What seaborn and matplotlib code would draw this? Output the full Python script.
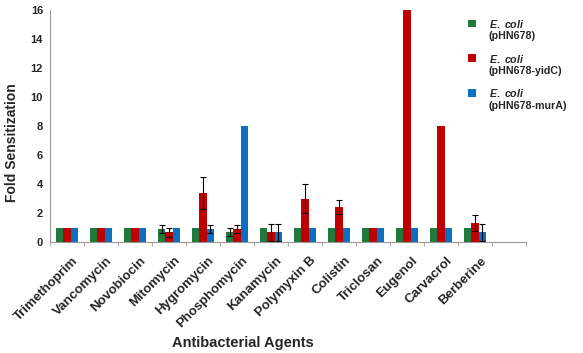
import numpy as np
import pandas as pd
import matplotlib
matplotlib.use("Agg")
import matplotlib.pyplot as plt
import matplotlib.transforms as mtransforms
import seaborn as sns
from matplotlib.patches import Patch, Rectangle
from matplotlib.legend_handler import HandlerPatch
from matplotlib.ticker import FixedLocator

sns.set_style("white")
plt.rcParams['font.family'] = ['Liberation Sans', 'DejaVu Sans']
plt.rcParams['font.weight'] = 'bold'
plt.rcParams['mathtext.fontset'] = 'custom'
plt.rcParams['mathtext.it'] = 'Liberation Sans:italic:bold'
plt.rcParams['mathtext.rm'] = 'Liberation Sans:bold'

agents = ['Trimethoprim', 'Vancomycin', 'Novobiocin', 'Mitomycin', 'Hygromycin',
          'Phosphomycin', 'Kanamycin', 'Polymyxin B', 'Colistin', 'Triclosan',
          'Eugenol', 'Carvacrol', 'Berberine']
strains = ['pHN678', 'pHN678-yidC', 'pHN678-murA']

# fold sensitization per strain
vals_base = [1, 1, 1, 0.88, 1, 0.67, 1, 1, 1, 1, 1, 1, 1]
vals_yidc = [1, 1, 1, 0.67, 3.4, 0.88, 0.67, 3.0, 2.4, 1, 16, 8, 1.33]
vals_mura = [1, 1, 1, 1, 0.9, 8, 0.67, 1, 1, 1, 1, 1, 0.67]

# error bars (0 = none)
err_base = [0, 0, 0, 0.27, 0, 0.27, 0, 0, 0, 0, 0, 0, 0]
err_yidc = [0, 0, 0, 0.3, 1.1, 0.27, 0.6, 1.0, 0.5, 0, 0, 0, 0.55]
err_mura = [0, 0, 0, 0, 0.27, 0, 0.6, 0, 0, 0, 0, 0, 0.58]

colors = ['#1f7a3c', '#c00000', '#0b70c0']

df = pd.DataFrame({
    'agent': agents * 3,
    'strain': np.repeat(strains, len(agents)),
    'fold': vals_base + vals_yidc + vals_mura,
})
errs = [err_base, err_yidc, err_mura]

fig, ax = plt.subplots(figsize=(5.83, 3.53), dpi=100)
fig.subplots_adjust(left=50/583, right=526/583, bottom=1-242/353, top=1-10/353)

sns.barplot(data=df, x='agent', y='fold', hue='strain', palette=colors,
            width=0.66, errorbar=None, saturation=1, linewidth=0, ax=ax, legend=False)

# error bars on top of the bars
for cont, e in zip(ax.containers, errs):
    for bar, ev in zip(cont, e):
        if ev > 0:
            cx = bar.get_x() + bar.get_width() / 2
            ax.errorbar(cx, bar.get_height(), yerr=ev, color='black',
                        lw=0.8, capsize=2, capthick=0.8)

ax.set_xlim(-0.5, len(agents) + 0.5)
ax.set_ylim(0, 16)
ax.set_yticks(range(0, 17, 2))
ax.tick_params(axis='y', labelsize=8, length=3, color='#999999', pad=2)
ax.tick_params(axis='x', which='major', length=0, labelsize=9.5, pad=9)
ax.xaxis.set_minor_locator(FixedLocator(np.arange(-0.5, len(agents) + 1, 1)))
ax.tick_params(axis='x', which='minor', length=3, color='#999999', direction='out')
ax.tick_params(axis='x', which='both', bottom=True)
shift = mtransforms.ScaledTranslation(5/100, 0, fig.dpi_scale_trans)
for lab in ax.get_xticklabels():
    lab.set_rotation(45)
    lab.set_ha('right')
    lab.set_rotation_mode('anchor')
    lab.set_transform(lab.get_transform() + shift)
for lab in ax.get_xticklabels() + ax.get_yticklabels():
    lab.set_fontweight('bold')

sns.despine(ax=ax)
for s in ['left', 'bottom']:
    ax.spines[s].set_color('#999999')
    ax.spines[s].set_linewidth(0.8)

ax.set_ylabel('Fold Sensitization', fontsize=10, fontweight='bold')
ax.yaxis.set_label_coords(-0.066, 0.43)
ax.set_xlabel('Antibacterial Agents', fontsize=10.5, fontweight='bold')
ax.xaxis.set_label_coords((243-50)/476, -0.405)


def top_square(legend, orig_handle, xdescent, ydescent, width, height, fontsize):
    # square next to the first line of the label
    return Rectangle((-xdescent, -ydescent + 0.6 * fontsize), width, height)


labels = [r'$\it{E.\ coli}$' + '\n(' + s + ')' for s in strains]
handles = [Patch(facecolor=c, edgecolor='none') for c in colors]
ax.legend(handles, labels, loc='upper left', bbox_to_anchor=(0.87, 0.985),
          frameon=False, fontsize=7.7, handlelength=0.7, handleheight=0.7,
          handletextpad=1.2, labelspacing=1.05, borderaxespad=0,
          handler_map={Patch: HandlerPatch(patch_func=top_square)})

fig.savefig('out.png', dpi=100)
